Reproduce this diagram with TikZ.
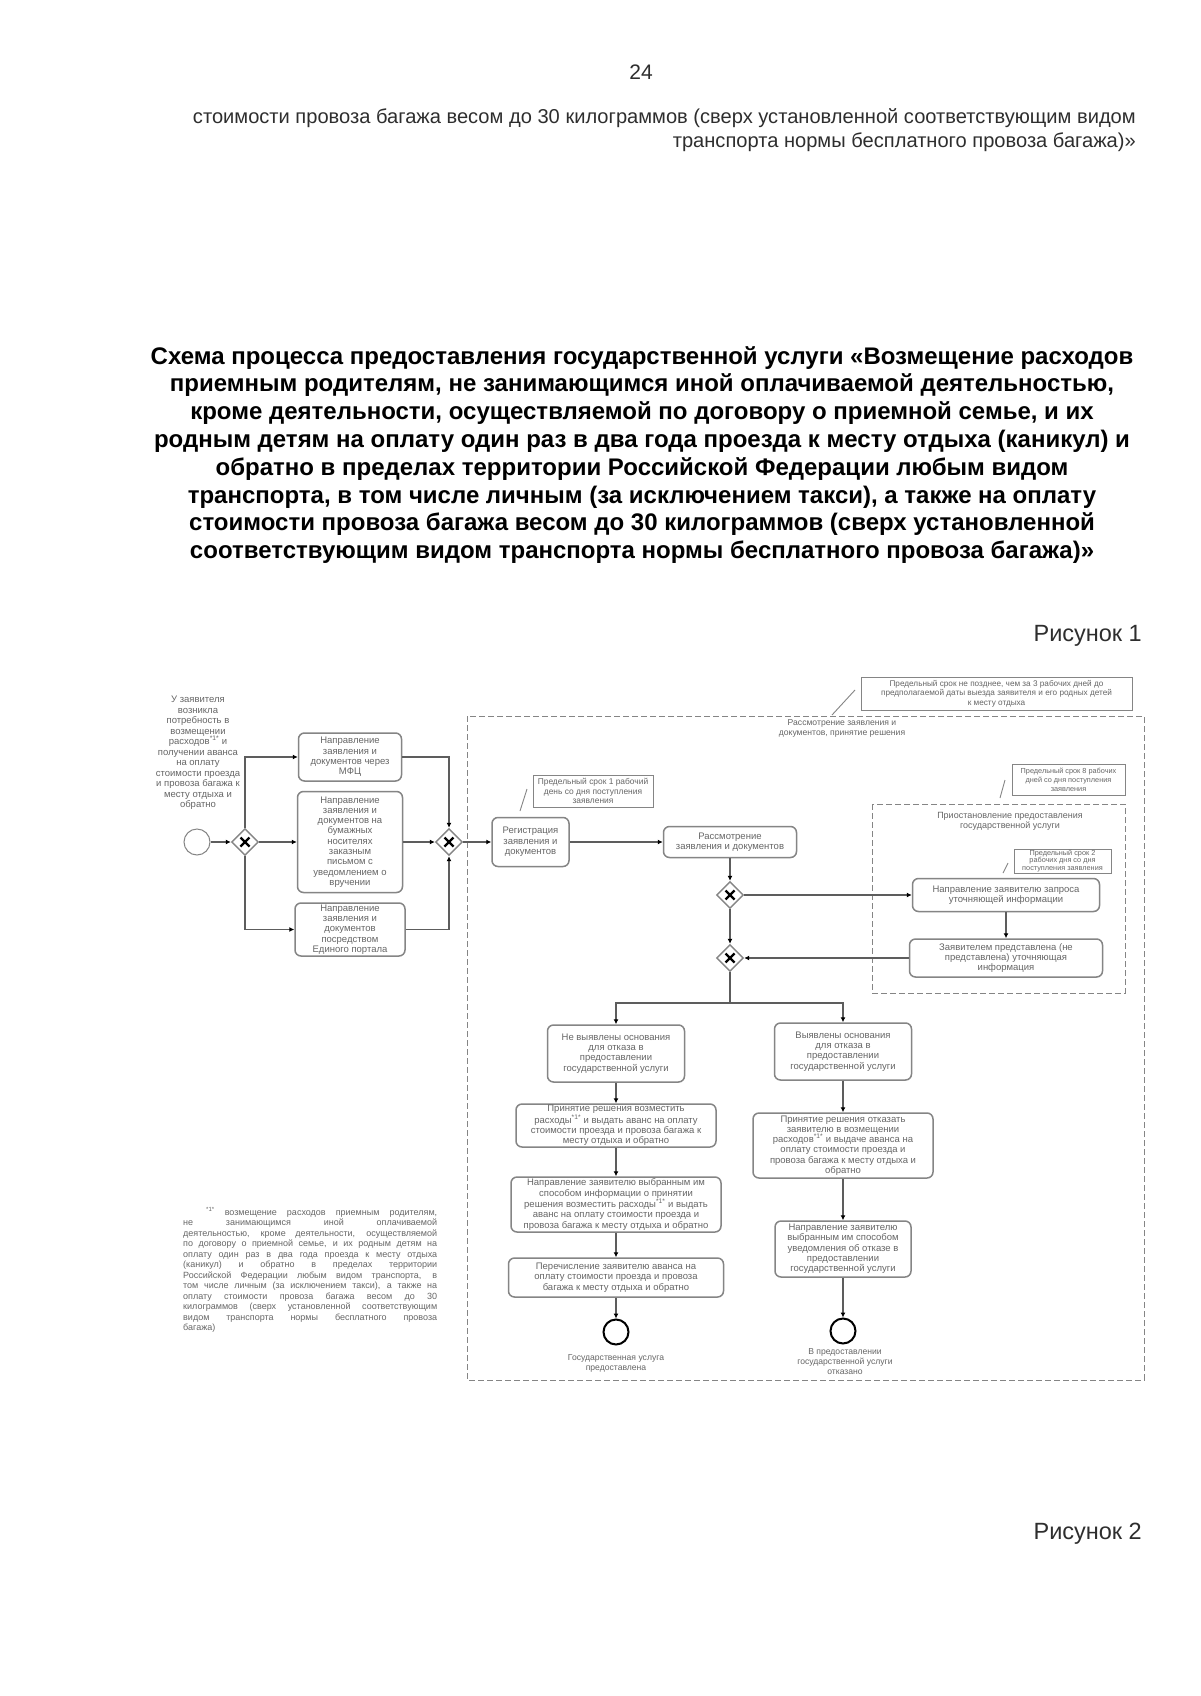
\documentclass[tikz,border=0pt]{standalone}
\usepackage{fontspec}
\setmainfont{Liberation Sans}
\usetikzlibrary{shapes.geometric,arrows.meta,calc}
\definecolor{ln}{HTML}{858585}
\definecolor{tx}{HTML}{666666}
\definecolor{hd}{HTML}{2E2E2E}
\begin{document}
\begin{tikzpicture}[x=1pt,y=-1pt,
  every node/.style={inner sep=0pt},
  bx/.style={draw=ln, line width=1.5pt, rounded corners=6pt, fill=white, text=tx, align=center, font=\fontsize{9.5}{10.3}\selectfont},
  nt/.style={draw=ln, line width=0.9pt, fill=white, text=tx, align=center, font=\fontsize{7.8}{9}\selectfont},
  lbl/.style={text=tx, align=center, font=\fontsize{8.6}{10}\selectfont},
  gw/.style={diamond, draw=ln, line width=1.4pt, fill=white, minimum width=27pt, minimum height=27pt,
    path picture={\draw[black,line width=2.2pt]
      ($(path picture bounding box.center)+(-4.5,-4.5)$) -- ($(path picture bounding box.center)+(4.5,4.5)$)
      ($(path picture bounding box.center)+(-4.5,4.5)$) -- ($(path picture bounding box.center)+(4.5,-4.5)$);}},
  startev/.style={circle, draw=ln, line width=1pt, minimum size=26pt},
  endev/.style={circle, draw=black, line width=2pt, minimum size=25pt},
  fl/.style={draw=ln!70!black, line width=1.1pt, -{Latex[length=5pt,width=5pt,black]}},
  pl/.style={draw=ln!70!black, line width=1.1pt},
  assoc/.style={draw=ln, line width=0.9pt},
  pool/.style={draw=ln, line width=1pt, dash pattern=on 6pt off 3pt}
]
\useasboundingbox (0,0) rectangle (1200,1696);
\fill[white] (0,0) rectangle (1200,1696);

% page texts
\node[text=hd, font=\fontsize{21}{24}\selectfont] (pgnum) at (641,72) {24};
\node[anchor=east, align=right, text=hd, font=\fontsize{20.1}{24}\selectfont] (header) at (1136,130)
 {стоимости провоза багажа весом до 30 килограммов (сверх установленной соответствующим видом\\
  транспорта нормы бесплатного провоза багажа)»};
\node[align=center, text=black, font=\bfseries\fontsize{24}{27.8}\selectfont] (title) at (642,455)
 {Схема процесса предоставления государственной услуги «Возмещение расходов\\
  приемным родителям, не занимающимся иной оплачиваемой деятельностью,\\
  кроме деятельности, осуществляемой по договору о приемной семье, и их\\
  родным детям на оплату один раз в два года проезда к месту отдыха (каникул) и\\
  обратно в пределах территории Российской Федерации любым видом\\
  транспорта, в том числе личным (за исключением такси), а также на оплату\\
  стоимости провоза багажа весом до 30 килограммов (сверх установленной\\
  соответствующим видом транспорта нормы бесплатного провоза багажа)»};
\node[anchor=east, text=hd, font=\fontsize{23.5}{26}\selectfont] (fig1) at (1142,636) {Рисунок 1};
\node[anchor=east, text=hd, font=\fontsize{23.5}{26}\selectfont] (fig2) at (1142,1534) {Рисунок 2};

% pool and subprocess
\draw[pool] (467,716) rectangle (1144,1380);
\draw[pool] (872,804) rectangle (1125,993);
\node[lbl] (poollbl) at (842,728) {Рассмотрение заявления и\\документов, принятие решения};
\node[lbl, font=\fontsize{9}{10}\selectfont] (sublbl) at (1010,821) {Приостановление предоставления\\государственной услуги};

% left annotation
\node[text=tx, align=center, font=\fontsize{9.5}{10.5}\selectfont] (ann) at (198,753)
 {У заявителя\\возникла\\потребность в\\возмещении\\расходов\textsuperscript{*1*} и\\получении аванса\\на оплату\\стоимости проезда\\и провоза багажа к\\месту отдыха и\\обратно};

% start and first gateway
\node[startev] (s) at (197,842) {};
\node[gw] (g1) at (245,842) {};
\node[bx, minimum width=103pt, minimum height=48pt] (mfc) at (350,757) {Направление\\заявления и\\документов через\\МФЦ};
\node[bx, minimum width=105pt, minimum height=101pt] (paper) at (350,842) {Направление\\заявления и\\документов на\\бумажных\\носителях\\заказным\\письмом с\\уведомлением о\\вручении};
\node[bx, minimum width=110pt, minimum height=53pt] (portal) at (350,929.5) {Направление\\заявления и\\документов\\посредством\\Единого портала};
\node[gw] (g2) at (449,842) {};

% registration and review
\node[bx, minimum width=77pt, minimum height=49pt] (reg) at (530.5,842) {Регистрация\\заявления и\\документов};
\node[bx, minimum width=133pt, minimum height=31pt] (rasm) at (730,842) {Рассмотрение\\заявления и документов};
\node[gw] (g3) at (730,895) {};
\node[gw] (g4) at (730,958) {};

% subprocess tasks
\node[bx, minimum width=187pt, minimum height=33pt] (zapros) at (1006,895) {Направление заявителю запроса\\уточняющей информации};
\node[bx, minimum width=193pt, minimum height=38pt] (predst) at (1006,958) {Заявителем представлена (не\\представлена) уточняющая\\информация};

% notes
\node[nt, minimum width=120pt, minimum height=32pt, font=\fontsize{8.4}{9.6}\selectfont] (note1) at (593,791) {Предельный срок 1 рабочий\\день со дня поступления\\заявления};
\node[nt, minimum width=271pt, minimum height=33pt, font=\fontsize{8.2}{9.6}\selectfont] (notetop) at (996.5,693.5) {Предельный срок не позднее, чем за 3 рабочих дней до\\предполагаемой даты выезда заявителя и его родных детей\\к месту отдыха};
\node[nt, minimum width=113pt, minimum height=31pt, font=\fontsize{7.3}{9}\selectfont] (note8) at (1068.5,779.5) {Предельный срок 8 рабочих\\дней со дня поступления\\заявления};
\node[nt, minimum width=97pt, minimum height=24pt, font=\fontsize{7.3}{7.8}\selectfont] (note2) at (1062.5,861) {Предельный срок 2\\рабочих дня со дня\\поступления заявления};
\coordinate (a1s) at (520,811); \coordinate (a1e) at (527,789);
\coordinate (a2s) at (832,715); \coordinate (a2e) at (855,690);
\coordinate (a3s) at (1000,798); \coordinate (a3e) at (1005,780);
\coordinate (a4s) at (1003,873); \coordinate (a4e) at (1008,863);
\draw[assoc] (a1s) -- (a1e);
\draw[assoc] (a2s) -- (a2e);
\draw[assoc] (a3s) -- (a3e);
\draw[assoc] (a4s) -- (a4e);

% outcome branches
\node[bx, minimum width=137pt, minimum height=57pt] (ne) at (616,1053.5) {Не выявлены основания\\для отказа в\\предоставлении\\государственной услуги};
\node[bx, minimum width=137pt, minimum height=57pt] (vy) at (843,1051.5) {Выявлены основания\\для отказа в\\предоставлении\\государственной услуги};
\node[bx, minimum width=200pt, minimum height=43pt] (l2) at (616,1125.5) {Принятие решения возместить\\расходы\textsuperscript{*1*} и выдать аванс на оплату\\стоимости проезда и провоза багажа к\\месту отдыха и обратно};
\node[bx, minimum width=210pt, minimum height=55pt] (l3) at (616,1204.5) {Направление заявителю выбранным им\\способом информации о принятии\\решения возместить расходы\textsuperscript{*1*} и выдать\\аванс на оплату стоимости проезда и\\провоза багажа к месту отдыха и обратно};
\node[bx, minimum width=215pt, minimum height=39pt] (l4) at (616,1277.5) {Перечисление заявителю аванса на\\оплату стоимости проезда и провоза\\багажа к месту отдыха и обратно};
\node[endev] (e1) at (616,1332) {};
\node[lbl] (e1lbl) at (616,1363) {Государственная услуга\\предоставлена};
\node[bx, minimum width=180pt, minimum height=65pt] (r2) at (843,1145.5) {Принятие решения отказать\\заявителю в возмещении\\расходов\textsuperscript{*1*} и выдаче аванса на\\оплату стоимости проезда и\\провоза багажа к месту отдыха и\\обратно};
\node[bx, minimum width=136pt, minimum height=56pt] (r3) at (843,1249) {Направление заявителю\\выбранным им способом\\уведомления об отказе в\\предоставлении\\государственной услуги};
\node[endev] (e2) at (843,1331) {};
\node[lbl] (e2lbl) at (845,1362) {В предоставлении\\государственной услуги\\отказано};

% footnote
\node[anchor=north west, align=left, text=tx, font=\fontsize{9}{10.5}\selectfont] (foot) at (183,1207)
 {\hspace*{23pt}\makebox[231pt][s]{\textsuperscript{*1*}~возмещение расходов приемным родителям,}\\
  \makebox[254pt][s]{не занимающимся иной оплачиваемой}\\
  \makebox[254pt][s]{деятельностью, кроме деятельности, осуществляемой}\\
  \makebox[254pt][s]{по договору о приемной семье, и их родным детям на}\\
  \makebox[254pt][s]{оплату один раз в два года проезда к месту отдыха}\\
  \makebox[254pt][s]{(каникул) и обратно в пределах территории}\\
  \makebox[254pt][s]{Российской Федерации любым видом транспорта, в}\\
  \makebox[254pt][s]{том числе личным (за исключением такси), а также на}\\
  \makebox[254pt][s]{оплату стоимости провоза багажа весом до 30}\\
  \makebox[254pt][s]{килограммов (сверх установленной соответствующим}\\
  \makebox[254pt][s]{видом транспорта нормы бесплатного провоза}\\
  багажа)};

% connectors
\draw[fl] (s) -- (g1);
\draw[fl] (g1.north) |- (mfc.west);
\draw[fl] (g1) -- (paper);
\draw[fl] (g1.south) |- (portal.west);
\draw[fl] (mfc.east) -| (g2.north);
\draw[fl] (paper) -- (g2);
\draw[fl] (portal.east) -| (g2.south);
\draw[fl] (g2) -- (reg);
\draw[fl] (reg) -- (rasm);
\draw[fl] (rasm) -- (g3);
\draw[fl] (g3) -- (zapros);
\draw[fl] (zapros) -- (predst);
\draw[fl] (g3) -- (g4);
\draw[fl] (predst) -- (g4);
\coordinate (sp) at (730,1003);
\draw[pl] (g4.south) -- (sp);
\draw[fl] (sp) -| (ne.north);
\draw[fl] (sp) -| (vy.north);
\draw[fl] (ne) -- (l2);
\draw[fl] (l2) -- (l3);
\draw[fl] (l3) -- (l4);
\draw[fl] (l4) -- (e1);
\draw[fl] (vy) -- (r2);
\draw[fl] (r2) -- (r3);
\draw[fl] (r3) -- (e2);
\end{tikzpicture}
\end{document}
